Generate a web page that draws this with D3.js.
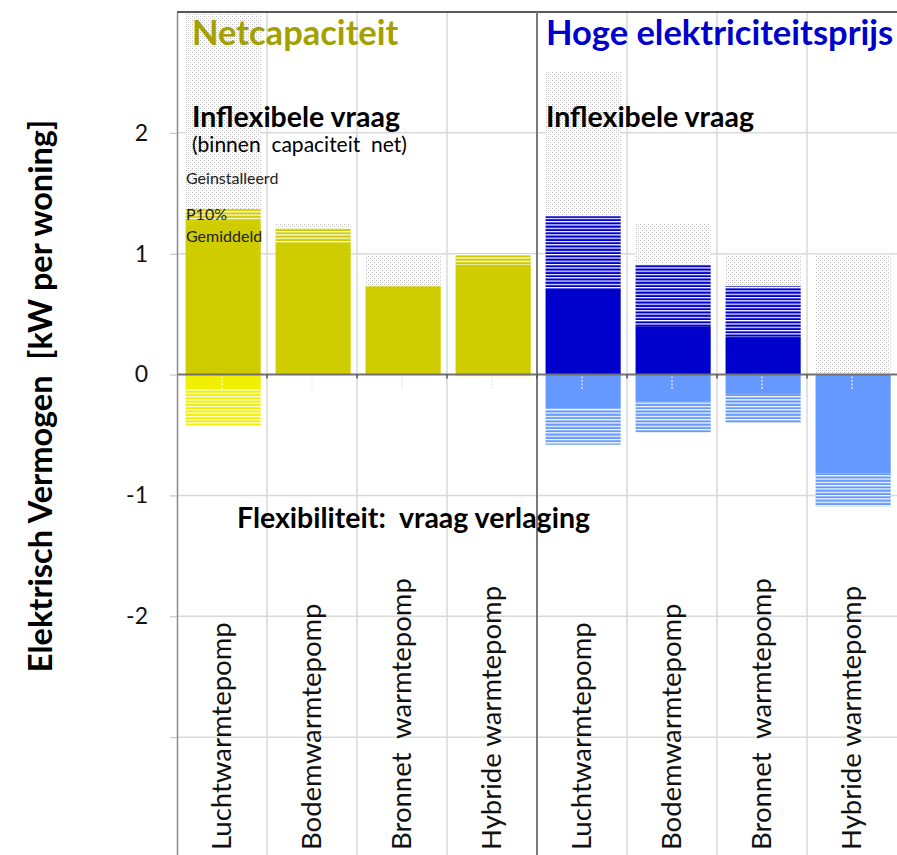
<!DOCTYPE html>
<html>
<head>
<meta charset="utf-8">
<script src="https://cdn.jsdelivr.net/npm/d3@7"></script>
<style>
  body { margin: 0; background: #fff; }
  svg { display: block; }
</style>
</head>
<body>
<div id="vis"></div>
<script>
const W = 897, H = 855;
const font = `Lato, "Open Sans", "DejaVu Sans", sans-serif`;

// data (kW per woning)
const scenarios = ['Netcapaciteit', 'Hoge elektriciteitsprijs'];
const categories = ['Luchtwarmtepomp', 'Bodemwarmtepomp', 'Bronnet  warmtepomp', 'Hybride warmtepomp',
                    'Luchtwarmtepomp', 'Bodemwarmtepomp', 'Bronnet  warmtepomp', 'Hybride warmtepomp'];
const group = [0, 0, 0, 0, 1, 1, 1, 1];
const gemiddeld     = [1.27, 1.09, 0.73, 0.91, 0.70, 0.40, 0.31, 0.00];
const p10           = [1.37, 1.21, 0.73, 1.00, 1.31, 0.91, 0.73, 0.00];
const geinstalleerd = [3.00, 1.25, 1.00, 1.00, 2.51, 1.25, 1.00, 1.00];
const flexGemiddeld = [-0.12, 0.00, 0.00, -0.01, -0.28, -0.22, -0.16, -0.82];
const flexP10       = [-0.42, 0.00, 0.00, -0.02, -0.58, -0.48, -0.40, -1.09];
const yTicks = [2, 1, 0, -1, -2, -3];
const notes = ['Geinstalleerd', 'P10%', 'Gemiddeld'];
const noteLevels = [1.58, 1.28, 1.10];

const posColor = ['#CFCC00', '#0000CC'];
const negColor = ['#F0F000', '#6699FF'];
const titleColor = ['#A3A000', '#0000CC'];

var svg = d3.select('#vis').append('svg').attr('width', W).attr('height', H);

var x = d3.scaleBand().domain(d3.range(categories.length)).range([177, 897]).padding(0);
var y = d3.scaleLinear().domain([-4, 3]).range([858, 12]);
const bw = x.bandwidth();
const inset = bw * 0.095, barW = bw * 0.835;

// patterns
const defs = svg.append('defs');
function hatch(id, color) {
    const p = defs.append('pattern').attr('id', id).attr('patternUnits', 'userSpaceOnUse')
        .attr('width', 8).attr('height', 3.3);
    p.append('rect').attr('width', 8).attr('height', 3.3).attr('fill', '#fff');
    p.append('rect').attr('y', 1.2).attr('width', 8).attr('height', 2.1).attr('fill', color);
}
[['hOl', posColor[0]], ['hBl', posColor[1]], ['hYe', negColor[0]], ['hLb', negColor[1]]].map(d => hatch(d[0], d[1]));
const hatchPos = ['url(#hOl)', 'url(#hBl)'], hatchNeg = ['url(#hYe)', 'url(#hLb)'];
const dots = defs.append('pattern').attr('id', 'dots').attr('patternUnits', 'userSpaceOnUse')
    .attr('width', 4).attr('height', 4);
dots.append('rect').attr('width', 4).attr('height', 4).attr('fill', '#fff');
[[0, 0, '#bcbcbc'], [2, 2, '#bcbcbc'], [2, 0, '#e6e6e6'], [0, 2, '#e6e6e6']].map(d => {
    dots.append('rect').attr('x', d[0]).attr('y', d[1]).attr('width', 1).attr('height', 1).attr('fill', d[2]);
});

// grid
const grid = svg.append('g');
grid.selectAll('line.h').data(yTicks.filter(d => d !== 0)).join('line')
    .attr('x1', 177).attr('x2', 897).attr('y1', d => y(d)).attr('y2', d => y(d))
    .attr('stroke', '#d9d9d9').attr('stroke-width', 1.5);
grid.selectAll('line.v').data(d3.range(1, categories.length).filter(i => i !== 4)).join('line')
    .attr('x1', i => x(i)).attr('x2', i => x(i)).attr('y1', 12).attr('y2', H)
    .attr('stroke', '#d9d9d9').attr('stroke-width', 1.5);

// bars
const idx = d3.range(categories.length);
function seg(cls, lo, hi, fill) {
    svg.append('g').selectAll('rect').data(idx.filter(i => Math.abs(hi(i) - lo(i)) > 0.001)).join('rect')
        .attr('class', cls)
        .attr('x', i => x(i) + inset).attr('width', barW)
        .attr('y', i => y(Math.max(lo(i), hi(i))))
        .attr('height', i => Math.abs(y(lo(i)) - y(hi(i))))
        .attr('fill', fill);
}
seg('inst', i => p10[i], i => geinstalleerd[i], 'url(#dots)');
seg('p10', i => gemiddeld[i], i => p10[i], i => hatchPos[group[i]]);
seg('gem', i => 0, i => gemiddeld[i], i => posColor[group[i]]);
seg('fp10', i => flexGemiddeld[i], i => flexP10[i], i => hatchNeg[group[i]]);
seg('fgem', i => 0, i => flexGemiddeld[i], i => negColor[group[i]]);

// small dashed marks under the zero line
svg.append('g').selectAll('line').data(idx).join('line')
    .attr('x1', i => x(i) + bw / 2).attr('x2', i => x(i) + bw / 2)
    .attr('y1', y(0) + 2).attr('y2', y(-0.12))
    .attr('stroke', i => flexGemiddeld[i] < -0.05 ? '#f4f4f4' : '#e6e6e6')
    .attr('stroke-width', 1.2).attr('stroke-dasharray', '2,1.5');

// frame and axes
svg.append('line').attr('x1', 177).attr('x2', 897).attr('y1', 12).attr('y2', 12)
    .attr('stroke', '#222').attr('stroke-width', 1.5);
svg.append('line').attr('x1', x(4)).attr('x2', x(4)).attr('y1', 12).attr('y2', H)
    .attr('stroke', '#7a7a7a').attr('stroke-width', 2);
svg.append('line').attr('x1', 177).attr('x2', 897).attr('y1', y(0)).attr('y2', y(0))
    .attr('stroke', '#707070').attr('stroke-width', 2);
svg.append('g').selectAll('line').data(d3.range(1, categories.length)).join('line')
    .attr('x1', i => x(i)).attr('x2', i => x(i)).attr('y1', y(0)).attr('y2', y(0) + 4)
    .attr('stroke', '#555').attr('stroke-width', 1.5);

var yAxis = svg.append('g').attr('transform', 'translate(177,0)')
    .call(d3.axisLeft(y).tickValues(yTicks).tickFormat(d => d > -3 ? d : '')
        .tickSize(7).tickSizeOuter(0).tickPadding(22));
yAxis.select('.domain').attr('stroke', '#8a8a8a').attr('stroke-width', 1.5);
yAxis.selectAll('.tick line').attr('stroke', '#bdbdbd');
yAxis.selectAll('.tick text').style('font-family', font).style('font-size', '23px').attr('fill', '#111');

svg.append('text')
    .attr('transform', 'translate(52,' + 396 + ') rotate(-90)')
    .attr('text-anchor', 'middle')
    .style('font-family', font).style('font-size', '32.5px').style('font-weight', 'bold')
    .style('white-space', 'pre')
    .text('Elektrisch Vermogen  [kW per woning]');

// category labels
svg.append('g').selectAll('text').data(idx).join('text')
    .attr('transform', i => 'translate(' + (x(i) + bw / 2 + 9) + ',850) rotate(-90)')
    .style('font-family', font).style('font-size', '27.5px').style('white-space', 'pre')
    .attr('fill', '#111')
    .text(i => categories[i]);

// annotations
svg.append('g').selectAll('text').data(scenarios).join('text')
    .attr('x', (d, k) => x(k * 4) + (k ? 9 : 15)).attr('y', 45)
    .style('font-family', font).style('font-size', '34.5px').style('font-weight', 'bold')
    .attr('fill', (d, k) => titleColor[k])
    .text(d => d);
svg.selectAll('text.infl').data([0, 4]).join('text').attr('class', 'infl')
    .attr('x', i => x(i) + (i ? 9 : 15)).attr('y', 127)
    .style('font-family', font).style('font-size', '28.5px').style('font-weight', 'bold')
    .text('Inflexibele vraag');
svg.append('text').attr('x', 192).attr('y', 152)
    .style('font-family', font).style('font-size', '21px').style('white-space', 'pre')
    .text('(binnen  capaciteit  net)');
svg.selectAll('text.note').data(notes).join('text').attr('class', 'note')
    .attr('x', x(0) + 9).attr('y', (d, k) => y(noteLevels[k]))
    .style('font-family', font).style('font-size', '16px').attr('fill', '#222')
    .text(d => d);
svg.append('text').attr('x', 237).attr('y', 528)
    .style('font-family', font).style('font-size', '28.5px').style('font-weight', 'bold')
    .style('white-space', 'pre')
    .text('Flexibiliteit:  vraag verlaging');
</script>
</body>
</html>
